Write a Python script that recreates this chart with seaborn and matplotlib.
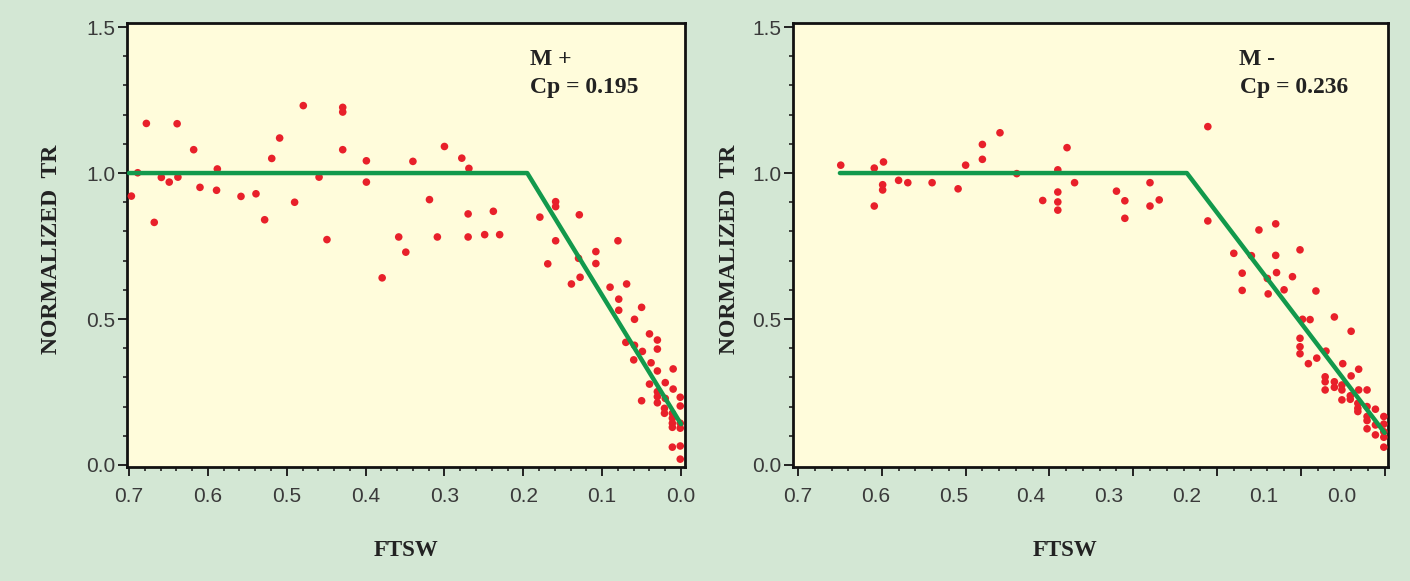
import numpy as np
import pandas as pd
import seaborn as sns
import matplotlib
matplotlib.use('Agg')
import matplotlib.pyplot as plt
from matplotlib.ticker import FormatStrFormatter

# data (FTSW, normalized transpiration)
left_ftsw = [0.697, 0.689, 0.678, 0.668, 0.659, 0.649, 0.639, 0.638, 0.618, 0.610,
             0.588, 0.589, 0.558, 0.539, 0.528, 0.519, 0.509, 0.490, 0.479, 0.459,
             0.449, 0.429, 0.429, 0.429, 0.399, 0.399, 0.379, 0.358, 0.349, 0.340,
             0.319, 0.300, 0.309, 0.278, 0.269, 0.270, 0.270, 0.249, 0.238, 0.230,
             0.179, 0.159, 0.159, 0.129, 0.159, 0.169, 0.130, 0.108, 0.108, 0.080,
             0.128, 0.139, 0.090, 0.069, 0.079, 0.079, 0.050, 0.059, 0.070, 0.059,
             0.060, 0.049, 0.040, 0.030, 0.030, 0.038, 0.030, 0.010, 0.040, 0.020,
             0.030, 0.030, 0.030, 0.010, 0.050, 0.020, 0.021, 0.021, 0.001, 0.001,
             0.011, 0.011, 0.011, 0.001, 0.001, 0.011, 0.011, 0.001, 0.001]
left_tr = [0.921, 1.001, 1.170, 0.831, 0.985, 0.969, 1.169, 0.986, 1.080, 0.951,
           1.014, 0.941, 0.920, 0.929, 0.840, 1.050, 1.120, 0.900, 1.231, 0.986,
           0.772, 1.225, 1.209, 1.080, 1.042, 0.969, 0.641, 0.781, 0.729, 1.040,
           0.909, 1.091, 0.781, 1.051, 1.016, 0.860, 0.781, 0.789, 0.869, 0.789,
           0.849, 0.902, 0.885, 0.857, 0.768, 0.689, 0.708, 0.731, 0.690, 0.768,
           0.643, 0.620, 0.609, 0.620, 0.568, 0.530, 0.540, 0.499, 0.420, 0.410,
           0.360, 0.389, 0.449, 0.428, 0.397, 0.350, 0.322, 0.329, 0.277, 0.282,
           0.251, 0.234, 0.213, 0.260, 0.220, 0.228, 0.194, 0.177, 0.232, 0.202,
           0.177, 0.160, 0.143, 0.143, 0.126, 0.129, 0.061, 0.065, 0.020]

right_ftsw = [0.649, 0.609, 0.598, 0.609, 0.599, 0.599, 0.580, 0.569, 0.540, 0.509,
              0.500, 0.480, 0.480, 0.459, 0.439, 0.408, 0.390, 0.390, 0.390, 0.390,
              0.379, 0.370, 0.320, 0.310, 0.310, 0.280, 0.280, 0.269, 0.211, 0.211,
              0.150, 0.130, 0.180, 0.159, 0.130, 0.101, 0.170, 0.129, 0.140, 0.110,
              0.170, 0.139, 0.120, 0.082, 0.098, 0.089, 0.060, 0.040, 0.101, 0.101,
              0.101, 0.091, 0.081, 0.070, 0.050, 0.031, 0.040, 0.071, 0.071, 0.071,
              0.060, 0.060, 0.051, 0.051, 0.051, 0.041, 0.041, 0.031, 0.021, 0.032,
              0.032, 0.032, 0.021, 0.021, 0.021, 0.021, 0.011, 0.011, 0.011, 0.001,
              0.001, 0.001, 0.001, 0.001]
right_tr = [1.027, 1.017, 1.038, 0.887, 0.960, 0.942, 0.975, 0.967, 0.967, 0.946,
            1.027, 1.098, 1.047, 1.138, 0.998, 0.906, 1.011, 0.935, 0.901, 0.873,
            1.087, 0.967, 0.938, 0.905, 0.845, 0.967, 0.887, 0.908, 1.159, 0.836,
            0.805, 0.826, 0.725, 0.717, 0.718, 0.737, 0.657, 0.659, 0.639, 0.645,
            0.598, 0.586, 0.600, 0.596, 0.499, 0.498, 0.507, 0.458, 0.434, 0.405,
            0.381, 0.347, 0.366, 0.390, 0.347, 0.328, 0.305, 0.302, 0.285, 0.257,
            0.285, 0.266, 0.274, 0.257, 0.223, 0.237, 0.225, 0.257, 0.257, 0.211,
            0.194, 0.183, 0.200, 0.166, 0.152, 0.124, 0.191, 0.137, 0.103, 0.166,
            0.140, 0.114, 0.095, 0.061]

# broken-stick fits
left_fit_x = [0.70, 0.195, 0.0]
left_fit_y = [1.0, 1.0, 0.14]
right_fit_x = [0.65, 0.236, 0.0]
right_fit_y = [1.0, 1.0, 0.11]

x_tick_vals = [0.0, 0.1, 0.2, 0.3, 0.4, 0.5, 0.6, 0.7]
y_tick_vals = [0.0, 0.5, 1.0, 1.5]
panel_titles = ['M +', 'M -']
panel_cp = ['Cp = 0.195', 'Cp = 0.236']

BG = '#d3e7d4'
PANEL = '#fffcdb'
RED = '#e8202a'
GREEN = '#12994c'
TXT = '#3a3a3a'

sns.set_style('ticks')
plt.rcParams['font.family'] = ['Liberation Sans', 'DejaVu Sans']

fig = plt.figure(figsize=(14.1, 5.81), dpi=100, facecolor=BG)
ax1 = fig.add_axes([0.0901, 0.1962, 0.3957, 0.7642])
ax2 = fig.add_axes([0.5624, 0.1962, 0.4220, 0.7642])

serif_bold = dict(family='Liberation Serif', weight='bold', color='#222222')


def style_axes(ax, xlim):
    ax.set_facecolor(PANEL)
    ax.set_xlim(xlim)
    ax.set_ylim(-0.007, 1.514)
    ax.set_xticks(x_tick_vals)
    ax.set_xticks(np.arange(0.0, 0.701, 0.02), minor=True)
    ax.set_yticks(y_tick_vals)
    ax.set_yticks(np.arange(0.0, 1.501, 0.1), minor=True)
    ax.xaxis.set_major_formatter(FormatStrFormatter('%.1f'))
    ax.yaxis.set_major_formatter(FormatStrFormatter('%.1f'))
    ax.tick_params(which='major', direction='out', length=6.5, width=1.4,
                   color='#222222', labelsize=15, labelcolor=TXT)
    ax.tick_params(axis='x', which='major', pad=8)
    ax.tick_params(axis='y', which='major', pad=2)
    ax.tick_params(which='minor', direction='out', length=3, width=1.2,
                   color='#222222')
    for s in ax.spines.values():
        s.set_visible(True)
        s.set_linewidth(2)
        s.set_color('#111111')
    ax.set_ylabel('NORMALIZED  TR', fontsize=17, **serif_bold)
    ax.set_xlabel('FTSW', fontsize=16.5, **serif_bold)


for ax, xs, ys, fx, fy, xlim in [
        (ax1, left_ftsw, left_tr, left_fit_x, left_fit_y, (0.7025, -0.005)),
        (ax2, right_ftsw, right_tr, right_fit_x, right_fit_y, (0.706, -0.004))]:
    style_axes(ax, xlim)
    sns.scatterplot(x=xs, y=ys, ax=ax, color=RED, s=30, edgecolor='none',
                    zorder=3)
    sns.lineplot(x=fx, y=fy, ax=ax, sort=False, estimator=None, color=GREEN,
                 linewidth=3.2, zorder=4)

ax1.yaxis.set_label_coords(-0.117, 0.49)
ax1.xaxis.set_label_coords(0.5, -0.165)
ax2.yaxis.set_label_coords(-0.089, 0.49)
ax2.xaxis.set_label_coords(0.457, -0.165)

# right panel: tick labels drift left of their tick marks in the original
k = 0.9266
ax2.tick_params(axis='x', which='major', labelbottom=False)
sec = ax2.secondary_xaxis('bottom', functions=(lambda x: 0.7 - (0.7 - x) / k,
                                                lambda v: 0.7 - k * (0.7 - v)))
sec.set_xticks(x_tick_vals)
sec.xaxis.set_major_formatter(FormatStrFormatter('%.1f'))
sec.tick_params(length=0, pad=14.5, labelsize=15, labelcolor=TXT)
sec.spines['bottom'].set_visible(False)

ax1.text(0.722, 0.917, panel_titles[0], transform=ax1.transAxes, fontsize=17,
         va='center', ha='left', **serif_bold)
ax1.text(0.722, 0.854, panel_cp[0], transform=ax1.transAxes, fontsize=17,
         va='center', ha='left', **serif_bold)
ax2.text(0.749, 0.917, panel_titles[1], transform=ax2.transAxes, fontsize=17,
         va='center', ha='left', **serif_bold)
ax2.text(0.751, 0.854, panel_cp[1], transform=ax2.transAxes, fontsize=17,
         va='center', ha='left', **serif_bold)

fig.savefig('out.png', dpi=100, facecolor=BG)
